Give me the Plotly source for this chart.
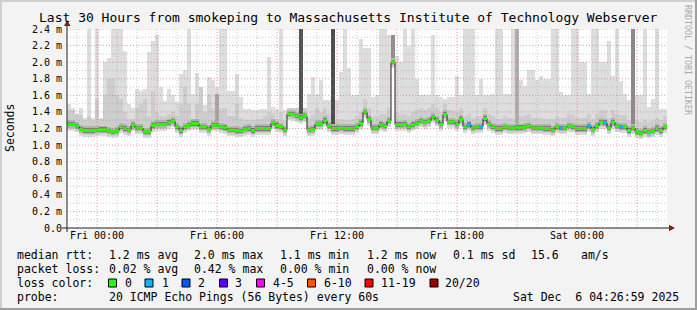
import plotly.graph_objects as go
import pandas as pd

# ---------------- data ----------------
median_rtt = [
    1.25, 1.25, 1.23, 1.19, 1.175, 1.175, 1.175, 1.18, 1.185, 1.185, 1.17, 1.16, 1.17, 1.22, 1.20, 1.18,
    1.24, 1.205, 1.205, 1.16, 1.16, 1.235, 1.25, 1.25, 1.25, 1.27, 1.29, 1.22, 1.175, 1.22, 1.24, 1.26,
    1.26, 1.22, 1.22, 1.19, 1.24, 1.24,
    1.22, 1.21, 1.18, 1.18, 1.175, 1.17, 1.19, 1.20, 1.175, 1.20, 1.20, 1.20, 1.20, 1.267, 1.235, 1.22,
    1.18, 1.375, 1.37, 1.35, 1.33, 1.35, 1.18, 1.19, 1.255, 1.255, 1.295, 1.23, 1.20, 1.20, 1.205, 1.20,
    1.20, 1.20, 1.22, 1.26, 1.40, 1.31,
    1.205, 1.205, 1.245, 1.23, 1.29, 2.00, 1.245, 1.245, 1.25, 1.22, 1.245, 1.265, 1.29, 1.275, 1.29, 1.34,
    1.30, 1.25, 1.37, 1.28, 1.28, 1.25, 1.31, 1.22, 1.245, 1.205, 1.22, 1.22, 1.32, 1.25, 1.22, 1.20,
    1.20, 1.22, 1.205, 1.205, 1.21, 1.21,
    1.215, 1.23, 1.205, 1.205, 1.205, 1.20, 1.20, 1.18, 1.22, 1.205, 1.205, 1.23, 1.22, 1.20, 1.20, 1.20,
    1.23, 1.19, 1.23, 1.275, 1.27, 1.205, 1.275, 1.23, 1.22, 1.22, 1.175, 1.205, 1.16, 1.145, 1.175, 1.155,
    1.17, 1.20, 1.175, 1.22,
]

# lost pings (of 20) per step; non-zero steps only
loss_steps = [100, 103, 123, 130, 134, 138]
loss_counts = [1, 1, 1, 1, 1, 1]

# slowest ping per step (values above 2.4 are clipped by the axis)
ping_max = [
    1.50, 1.45, 1.37, 1.45, 1.33, 2.50, 1.33, 2.50, 1.33, 2.00, 2.05, 2.50, 2.50, 2.50, 2.13, 1.50,
    1.45, 1.68, 1.65, 1.68, 2.12, 2.25, 2.33, 1.70, 1.53, 1.68, 1.60, 1.52, 1.86, 1.90, 2.50, 1.62,
    1.87, 1.68, 1.48, 1.82, 1.79, 1.70, 2.50, 2.50, 1.65, 1.65, 1.86, 1.58, 1.44, 1.44, 1.42, 1.42,
    1.44, 1.44, 2.06, 1.46, 1.44, 2.50, 1.42, 1.44, 1.44, 1.44, 2.50, 1.42, 1.62, 1.82, 1.62, 1.79,
    1.54, 1.54, 2.50, 1.54, 1.88, 2.50, 1.93, 1.60, 1.60, 2.28, 2.17, 2.17, 1.58, 1.60, 2.50, 2.50,
    2.33, 2.33, 2.07, 2.00, 2.50, 2.19, 2.50, 1.80, 1.60, 1.60, 1.60, 2.33, 1.60, 1.58, 1.56, 1.58,
    1.58, 1.83, 1.60, 2.50, 2.50, 2.50, 1.60, 1.80, 1.60, 1.60, 1.62, 2.50, 2.50, 1.62, 1.62, 2.50,
    2.50, 1.79, 1.71, 1.91, 1.91, 1.79, 1.83, 1.80, 1.80, 2.50, 2.50, 1.64, 1.60, 1.60, 2.50, 2.50,
    2.00, 2.00, 1.62, 2.50, 2.50, 2.00, 2.00, 2.25, 1.83, 2.50, 1.77, 1.62, 1.54, 2.50, 1.60, 1.60,
    2.50, 1.46, 1.56, 2.50, 1.44, 1.44,
]

# upper edge of the denser (mid-grey) part of the smoke per step
ping_upper = [
    1.42, 1.42, 1.38, 1.36, 1.30, 1.35, 1.30, 1.55, 1.32, 1.60, 1.80, 1.80, 1.60, 1.55, 1.40, 1.32,
    1.32, 1.45, 1.50, 1.55, 1.35, 1.65, 1.40, 1.35, 1.35, 1.38, 1.40, 1.35, 1.50, 1.70, 1.50, 1.32,
    1.50, 1.70, 1.40, 1.60, 1.45, 1.60,
    1.45, 1.45, 1.35, 1.35, 1.50, 1.33, 1.30, 1.30, 1.30, 1.30, 1.32, 1.35, 1.40, 1.38, 1.32, 1.40,
    1.30, 1.45, 1.45, 1.45, 1.45, 1.45, 1.33, 1.36, 1.45, 1.40, 1.45, 1.38, 1.30, 1.30, 1.32, 1.30,
    1.30, 1.32, 1.35, 1.40, 1.55, 1.45,
    1.35, 1.35, 1.38, 1.38, 1.45, 2.33, 1.40, 1.38, 1.38, 1.35, 1.40, 1.42, 1.45, 1.42, 1.45, 1.50,
    1.45, 1.40, 1.50, 1.42, 1.42, 1.40, 1.45, 1.35, 1.38, 1.33, 1.35, 1.35, 1.45, 1.38, 1.35, 1.32,
    1.32, 1.35, 1.33, 1.33, 1.35, 1.35,
    1.35, 1.38, 1.33, 1.33, 1.33, 1.32, 1.32, 1.32, 1.35, 1.33, 1.33, 1.38, 1.36, 1.33, 1.33, 1.33,
    1.38, 1.32, 1.38, 1.42, 1.42, 1.33, 1.42, 1.38, 1.36, 1.36, 1.30, 1.33, 1.30, 1.28, 1.30, 1.28,
    1.30, 1.33, 1.30, 1.35,
]

# steps where most of the pings were slow (dark smoke columns)
dense_steps = [37, 58, 66, 81, 112, 141]
dense_top = [1.62, 2.50, 2.50, 2.33, 2.50, 2.50]

y_tick_vals = [0.0, 0.2, 0.4, 0.6, 0.8, 1.0, 1.2, 1.4, 1.6, 1.8, 2.0, 2.2, 2.4]
y_tick_text = ["0.0", "0.2 m", "0.4 m", "0.6 m", "0.8 m", "1.0 m", "1.2 m", "1.4 m",
               "1.6 m", "1.8 m", "2.0 m", "2.2 m", "2.4 m"]
x_tick_text = ["Fri 00:00", "", "Fri 06:00", "", "Fri 12:00", "", "Fri 18:00", "", "Sat 00:00", ""]

title_text = "Last 30 Hours from smokeping to Massachusetts Institute of Technology Webserver"
rtt_label = "median rtt:"
rtt_stats = ["1.2 ms avg", "2.0 ms max", "1.1 ms min", "1.2 ms now", "0.1 ms sd", "15.6", "am/s"]
loss_label = "packet loss:"
loss_stats = ["0.02 % avg", "0.42 % max", "0.00 % min", "0.00 % now"]
color_label = "loss color:"
loss_names = ["0", "1", "2", "3", "4-5", "6-10", "11-19", "20/20"]
loss_colors = ["#26ff00", "#00b8ff", "#0059ff", "#5e00ff", "#ff00ff", "#ff5500", "#ff0000", "#a00000"]
probe_label = "probe:"
probe_text = "20 ICMP Echo Pings (56 Bytes) every 60s"
stamp_text = "Sat Dec  6 04:26:59 2025"

# ---------------- geometry / style ----------------
W, H = 697, 310
ML, MR, MT, MB = 67, 30, 29, 82
PW, PH = W - ML - MR, H - MT - MB
MONO = "DejaVu Sans Mono"


def px(x):
    return (x - ML) / PW


def py(y):
    return (MT + PH - y) / PH


start = pd.Timestamp("2025-12-04 22:30:00")
step = pd.Timedelta(minutes=12)
times = pd.date_range(start, periods=len(median_rtt), freq="12min")
t_end = times[-1] + step
step_ms = step.total_seconds() * 1000

fig = go.Figure()


def band(bottom, top, color, xs=None):
    xs = times if xs is None else xs
    fig.add_trace(go.Bar(
        x=xs, base=bottom, y=[t - b for t, b in zip(top, bottom)],
        width=step_ms, offset=0,
        marker=dict(color=color, line=dict(width=0)),
        hoverinfo="skip", showlegend=False,
    ))


med = median_rtt
band([m - 0.075 for m in med], ping_max, "#dddddd")
band([m - 0.055 for m in med], ping_upper, "#cdcdcd")
dense_colors = ["#a8a8a8", "#555555", "#4e4e4e", "#909090", "#b0b0b0", "#8a8a8a"]
for k, top, col in zip(dense_steps, dense_top, dense_colors):
    band([med[k]], [top], col, xs=[times[k]])
band([m - 0.04 for m in med], [m + 0.05 for m in med], "#b2b2b2")
band([m - 0.025 for m in med], [m + 0.028 for m in med], "#7c7c7c")

# median line (dark) with loss-coloured overlay
fig.add_trace(go.Scatter(
    x=list(times) + [t_end], y=med + [med[-1]], mode="lines",
    line=dict(color="#202020", width=1, shape="hv"),
    hoverinfo="skip", showlegend=False,
))
loss_of = {k: c for k, c in zip(loss_steps, loss_counts)}
for lc in sorted(set([0] + loss_counts)):
    xs, ys = [], []
    for k, m in enumerate(med):
        if loss_of.get(k, 0) == lc:
            xs += [times[k], times[k] + step, None]
            ys += [m, m, None]
    fig.add_trace(go.Scatter(
        x=xs, y=ys, mode="lines",
        line=dict(color=loss_colors[lc], width=3),
        hoverinfo="skip", showlegend=False,
    ))

# ---------------- grid (drawn above data as rrdtool does) ----------------
shapes = []
GRID_MAJ = "rgba(222,80,80,0.55)"
GRID_MIN = "rgba(140,140,140,0.45)"
for h in pd.date_range("2025-12-04 23:00", "2025-12-06 04:00", freq="h"):
    major = h.hour % 3 == 0
    shapes.append(dict(type="line", xref="x", yref="paper", x0=h, x1=h, y0=0, y1=1,
                       line=dict(color=GRID_MAJ if major else GRID_MIN, width=1, dash="1px,2px"),
                       layer="above"))
for i in range(1, 25):
    v = i / 10
    major = i % 2 == 0
    shapes.append(dict(type="line", xref="paper", yref="y", x0=0, x1=1, y0=v, y1=v,
                       line=dict(color=GRID_MAJ if major else GRID_MIN, width=1, dash="1px,2px"),
                       layer="above"))

# axes with arrows
AX = "#202020"
ARROW = "#8b1a1a"
shapes.append(dict(type="line", xref="paper", yref="paper", x0=px(67), x1=px(67), y0=py(232), y1=py(22),
                   line=dict(color=AX, width=1), layer="above"))
shapes.append(dict(type="line", xref="paper", yref="paper", x0=px(62), x1=px(671), y0=py(228), y1=py(228),
                   line=dict(color=AX, width=1), layer="above"))
shapes.append(dict(type="path", xref="paper", yref="paper",
                   path=f"M {px(64)} {py(26)} L {px(70.5)} {py(26)} L {px(67.2)} {py(20)} Z",
                   fillcolor=ARROW, line=dict(width=0), layer="above"))
shapes.append(dict(type="path", xref="paper", yref="paper",
                   path=f"M {px(669)} {py(224.8)} L {px(669)} {py(231.2)} L {px(675)} {py(228)} Z",
                   fillcolor=ARROW, line=dict(width=0), layer="above"))

# frame (3D border)
shapes.append(dict(type="rect", xref="paper", yref="paper", x0=px(0), x1=px(697), y0=py(0), y1=py(2),
                   fillcolor="#cfcfcf", line=dict(width=0)))
shapes.append(dict(type="rect", xref="paper", yref="paper", x0=px(0), x1=px(2), y0=py(0), y1=py(310),
                   fillcolor="#cfcfcf", line=dict(width=0)))
shapes.append(dict(type="rect", xref="paper", yref="paper", x0=px(0), x1=px(697), y0=py(308), y1=py(310),
                   fillcolor="#9e9e9e", line=dict(width=0)))
shapes.append(dict(type="rect", xref="paper", yref="paper", x0=px(695), x1=px(697), y0=py(0), y1=py(310),
                   fillcolor="#9e9e9e", line=dict(width=0)))

# legend colour boxes
box_x = [108.5, 145, 182, 219.5, 256.5, 307.5, 365, 430]
for bx, col in zip(box_x, loss_colors):
    shapes.append(dict(type="rect", xref="paper", yref="paper",
                       x0=px(bx), x1=px(bx + 8), y0=py(279), y1=py(287),
                       fillcolor=col, line=dict(color="#000000", width=1)))

# ---------------- text ----------------
ann = []


def txt(s, x, y, size=11.5, xanchor="left", color="#000000", angle=0):
    ann.append(dict(text=s, x=px(x), y=py(y), xref="paper", yref="paper",
                    xanchor=xanchor, yanchor="middle", showarrow=False, textangle=angle,
                    font=dict(family=MONO, size=size, color=color), borderpad=0))


txt(title_text, 348, 17.5, size=13, xanchor="center")
txt("Seconds", 10, 128, size=11.5, xanchor="center", angle=-90)
txt("RRDTOOL / TOBI OETIKER", 688, 60, size=8.3, xanchor="center", color="#a8a8a8", angle=90)

txt(rtt_label, 16, 255)
for s, x in zip(rtt_stats, [107.5, 192.5, 279, 365.5, 451.5, 530, 580]):
    txt(s, x, 255)
txt(loss_label, 16, 269)
for s, x in zip(loss_stats, [107.5, 192.5, 279, 365.5]):
    txt(s, x, 269)
txt(color_label, 16, 283)
for s, x in zip(loss_names, [123.5, 161, 197, 234, 272, 322.5, 380, 444]):
    txt(s, x, 283)
txt(probe_label, 16, 297)
txt(probe_text, 107.5, 297)
txt(stamp_text, 680, 297, xanchor="right")

x_ticks = pd.date_range("2025-12-05 00:00", periods=len(x_tick_text), freq="3h")

fig.update_layout(
    width=W, height=H,
    margin=dict(l=ML, r=MR, t=MT, b=MB, pad=0),
    paper_bgcolor="#f3f3f3", plot_bgcolor="#ffffff",
    barmode="overlay", bargap=0,
    showlegend=False,
    shapes=shapes, annotations=ann,
    xaxis=dict(
        type="date", range=[start, t_end], showgrid=False, zeroline=False, showline=False,
        tickvals=list(x_ticks), ticktext=x_tick_text, ticks="",
        tickfont=dict(family=MONO, size=10, color="#000000"),
        fixedrange=True,
    ),
    yaxis=dict(
        range=[0, 2.4], showgrid=False, zeroline=False, showline=False,
        tickvals=y_tick_vals, ticktext=y_tick_text, ticks="",
        tickfont=dict(family=MONO, size=10, color="#000000"),
        ticklabelstandoff=4,
        fixedrange=True,
    ),
)

fig.write_html("out.html", config={"displayModeBar": False})
